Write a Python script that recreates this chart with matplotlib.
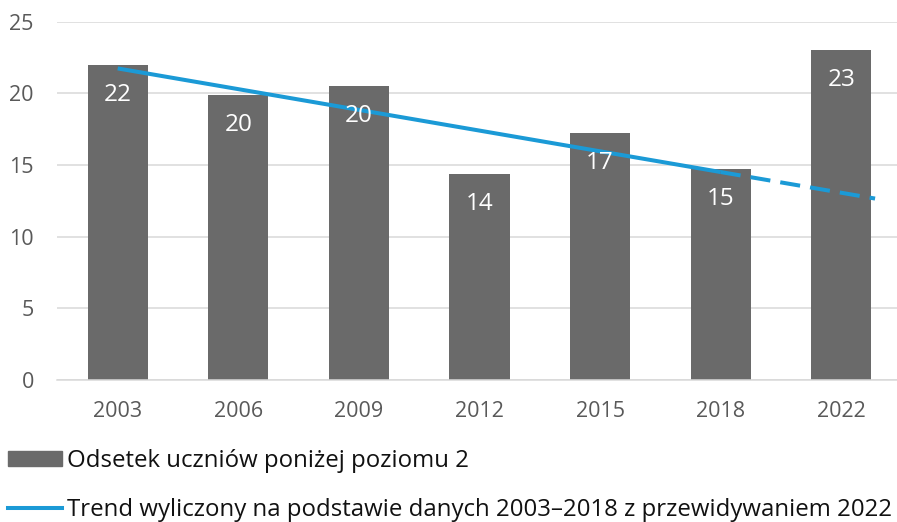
import matplotlib
matplotlib.use('Agg')
import matplotlib.pyplot as plt
from matplotlib.patches import Patch
from matplotlib.lines import Line2D

# ---- data ----
years = ['2003', '2006', '2009', '2012', '2015', '2018', '2022']
share_below_level2 = [22.0, 19.9, 20.5, 14.4, 17.2, 14.7, 23.0]
value_labels = ['22', '20', '20', '14', '17', '15', '23']
trend_fit_pos = [0, 5]
trend_fit_val = [21.74, 14.51]
trend_proj_pos = [5, 6.28]
trend_proj_val = [14.51, 12.66]
yticks = [0, 5, 10, 15, 20, 25]
series_names = ['Odsetek uczniów poniżej poziomu 2',
                'Trend wyliczony na podstawie danych 2003–2018 z przewidywaniem 2022']

BAR = '#6a6a6a'
BLUE = '#1b9ad6'
GRID = '#d9d9d9'

plt.rcParams['font.family'] = ['Open Sans', 'DejaVu Sans']

W, H = 897, 522
fig = plt.figure(figsize=(W / 100, H / 100), dpi=100)
ax = fig.add_axes([57.4 / W, (H - 380) / H, (901.6 - 57.4) / W, (380 - 21.7) / H])

x = list(range(len(years)))
ax.bar(x, share_below_level2, width=0.5, color=BAR, zorder=2)
ax.plot(trend_fit_pos, trend_fit_val, color=BLUE, lw=2.9, solid_capstyle='butt', zorder=3)
ax.plot(trend_proj_pos, trend_proj_val, color=BLUE, lw=2.9, linestyle=(0, (5, 2.5)),
        dash_capstyle='butt', zorder=3)

for i, (v, lab) in enumerate(zip(share_below_level2, value_labels)):
    ax.annotate(lab, (i, v), xytext=(0, -21.6), textcoords='offset points',
                ha='center', va='center', color='white', fontsize=17.5, zorder=4)

ax.set_xlim(-0.5, len(years) - 0.5)
ax.set_ylim(0, 25)
ax.set_yticks(yticks)
ax.set_xticks(x)
ax.set_xticklabels(years)
ax.grid(axis='y', color=GRID, lw=1.1, zorder=0)
ax.set_axisbelow(True)
for s in ['top', 'right', 'left']:
    ax.spines[s].set_visible(False)
ax.spines['bottom'].set_color(GRID)
ax.spines['bottom'].set_linewidth(1.1)
ax.tick_params(length=0, labelsize=15.5, colors='#595959')
ax.tick_params(axis='y', pad=17)
ax.tick_params(axis='x', pad=15)

handles = [Patch(color=BAR), Line2D([], [], color=BLUE, lw=2.9)]
fig.legend(handles, series_names, loc='upper left', bbox_to_anchor=(8 / W, 1 - 449 / H),
           frameon=False, fontsize=17.3, handlelength=2.25, handleheight=0.58,
           handletextpad=0.2, labelspacing=1.03, borderpad=0, borderaxespad=0,
           labelcolor='#111111')

fig.savefig('out.png', dpi=100)
